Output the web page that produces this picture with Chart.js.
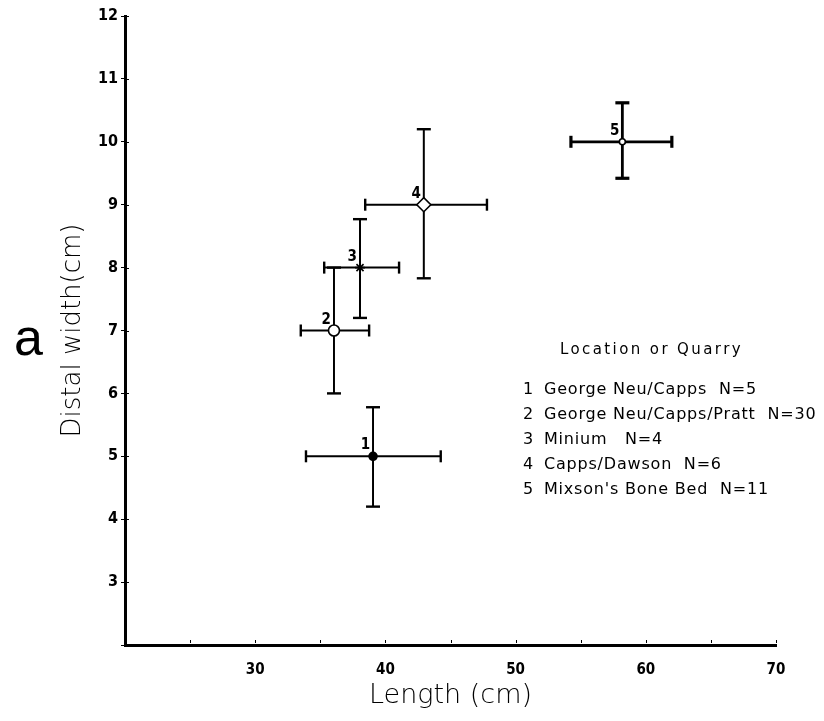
<!DOCTYPE html>
<html>
<head>
<meta charset="utf-8">
<script src="https://cdn.jsdelivr.net/npm/chart.js@4.4.0/dist/chart.umd.min.js"></script>
<style>
  html, body { margin: 0; padding: 0; background: #fff; }
  #wrap { width: 824px; height: 721px; position: relative; }
</style>
</head>
<body>
<div id="wrap"><canvas id="chart"></canvas></div>
<script>
// Distal width vs length, mean with range, by location / quarry
const siteIds    = ['1', '2', '3', '4', '5'];
const siteNames  = ['George Neu/Capps  N=5', 'George Neu/Capps/Pratt  N=30', 'Minium   N=4', 'Capps/Dawson  N=6', "Mixson's Bone Bed  N=11"];
const lengthMean = [39.05, 36.05, 38.05, 42.95, 58.2];
const lengthLow  = [33.9, 33.5, 35.3, 38.45, 54.25];
const lengthHigh = [44.25, 38.75, 41.05, 47.8, 62.0];
const widthMean  = [5.0, 7.0, 8.0, 9.0, 10.0];
const widthLow   = [4.2, 6.0, 7.2, 7.83, 9.42];
const widthHigh  = [5.78, 8.0, 8.77, 10.2, 10.62];
const xTickLabels = [30, 40, 50, 60, 70];
const yTickLabels = [3, 4, 5, 6, 7, 8, 9, 10, 11, 12];

// marker look per site
const markerStyle  = ['circle', 'circle', 'star', 'rectRot', 'circle'];
const markerRadius = [4, 5.5, 5, 7, 3];
const markerFill   = ['#000', '#fff', '#000', '#fff', '#fff'];

const TICK_FONT = "'DejaVu Sans Condensed', 'DejaVu Sans', sans-serif";

const errorBars = {
  id: 'errorBars',
  beforeDatasetsDraw(chart) {
    const { ctx, scales: { x, y } } = chart;
    const line = (ax, ay, bx, by) => { ctx.beginPath(); ctx.moveTo(ax, ay); ctx.lineTo(bx, by); ctx.stroke(); };
    ctx.save();
    ctx.strokeStyle = '#000';
    ctx.lineCap = 'butt';
    siteIds.forEach((id, i) => {
      const cx = x.getPixelForValue(lengthMean[i]);
      const cy = y.getPixelForValue(widthMean[i]);
      const x0 = x.getPixelForValue(lengthLow[i]);
      const x1 = x.getPixelForValue(lengthHigh[i]);
      const y0 = y.getPixelForValue(widthLow[i]);
      const y1 = y.getPixelForValue(widthHigh[i]);
      ctx.lineWidth = i === 4 ? 2.8 : 2;
      line(x0, cy, x1, cy);
      line(cx, y0, cx, y1);
      ctx.lineWidth = i === 4 ? 3.2 : 2.4;
      line(x0, cy - 6, x0, cy + 6);
      line(x1, cy - 6, x1, cy + 6);
      line(cx - 7, y0, cx + 7, y0);
      line(cx - 7, y1, cx + 7, y1);
    });
    ctx.restore();
  },
  afterDraw(chart) {
    const { ctx, scales: { x, y }, chartArea } = chart;
    ctx.save();
    ctx.setTransform(1, 0, 0, 1, 0, 0);
    // small inner tick marks
    ctx.strokeStyle = '#000';
    ctx.lineWidth = 1;
    x.ticks.forEach(t => {
      const px = Math.round(x.getPixelForValue(t.value)) + 0.5;
      ctx.beginPath(); ctx.moveTo(px, chartArea.bottom - 2); ctx.lineTo(px, chartArea.bottom - 5); ctx.stroke();
    });
    y.ticks.forEach(t => {
      const py = Math.round(y.getPixelForValue(t.value)) + 0.5;
      ctx.beginPath(); ctx.moveTo(chartArea.left + 2, py); ctx.lineTo(chartArea.left + 4, py); ctx.stroke();
    });

    // site numbers beside markers
    ctx.fillStyle = '#000';
    ctx.font = `bold 15px ${TICK_FONT}`;
    ctx.textAlign = 'right';
    ctx.textBaseline = 'alphabetic';
    siteIds.forEach((id, i) => {
      const cx = x.getPixelForValue(lengthMean[i]);
      const cy = y.getPixelForValue(widthMean[i]);
      ctx.fillText(id, cx - 3, cy - 7);
    });

    // legend block
    ctx.textAlign = 'left';
    ctx.font = "15px 'DejaVu Sans', sans-serif";
    ctx.letterSpacing = '2.4px';
    ctx.fillText('Location or Quarry', 560, 354);
    ctx.font = "16px 'DejaVu Sans', sans-serif";
    ctx.letterSpacing = '0.8px';
    siteNames.forEach((name, i) => {
      const by = 394 + i * 25;
      ctx.textAlign = 'right';
      ctx.fillText(siteIds[i], 534, by);
      ctx.textAlign = 'left';
      ctx.fillText(name, 544, by);
    });
    ctx.letterSpacing = '0px';
    ctx.restore();

    // panel letter
    ctx.save();
    ctx.setTransform(1, 0, 0, 1, 0, 0);
    ctx.fillStyle = '#000';
    ctx.textAlign = 'left';
    ctx.textBaseline = 'alphabetic';
    ctx.font = "52px 'Liberation Sans', 'DejaVu Sans', sans-serif";
    ctx.fillText('a', 14, 355);
    ctx.restore();
  }
};

const points = lengthMean.map((v, i) => ({ x: v, y: widthMean[i] }));

new Chart(document.getElementById('chart'), {
  type: 'scatter',
  data: {
    datasets: [{
      label: 'Sites',
      data: points,
      pointStyle: markerStyle,
      pointRadius: markerRadius,
      pointHoverRadius: markerRadius,
      backgroundColor: markerFill,
      borderColor: '#000',
      borderWidth: 1.6,
    }],
  },
  options: {
    responsive: true,
    maintainAspectRatio: false,
    animation: false,
    layout: { padding: { left: 0, right: 48, top: 16, bottom: 0 } },
    plugins: { legend: { display: false }, tooltip: { enabled: false } },
    scales: {
      x: {
        type: 'linear',
        min: 20, max: 70,
        afterFit: s => { s.height = 76; },
        ticks: {
          stepSize: 5,
          padding: 8,
          color: '#000',
          font: { family: TICK_FONT, size: 15, weight: 'bold' },
          maxRotation: 0,
          callback: v => xTickLabels.includes(v) ? String(v) : '',
        },
        grid: { display: false },
        border: { display: true, color: '#000', width: 3 },
        title: {
          display: true,
          text: 'Length (cm)',
          color: '#000',
          font: { family: "'DejaVu Sans', sans-serif", size: 27, weight: 200 },
          padding: { top: 0, bottom: 9 },
        },
      },
      y: {
        type: 'linear',
        min: 2, max: 12,
        afterFit: s => { s.width = 125; },
        ticks: {
          stepSize: 1,
          padding: 3,
          color: '#000',
          font: { family: TICK_FONT, size: 16, weight: 'bold' },
          callback: v => yTickLabels.includes(v) ? String(v) : '',
        },
        grid: { display: true, drawOnChartArea: false, drawTicks: true, tickLength: 4, color: '#000', lineWidth: 1 },
        border: { display: true, color: '#000', width: 3 },
        title: {
          display: true,
          text: 'Distal width(cm)',
          color: '#000',
          align: 'center',
          font: { family: "'DejaVu Sans', sans-serif", size: 26, weight: 200 },
          padding: { top: 58, bottom: 0 },
        },
      },
    },
  },
  plugins: [errorBars],
});
</script>
</body>
</html>
